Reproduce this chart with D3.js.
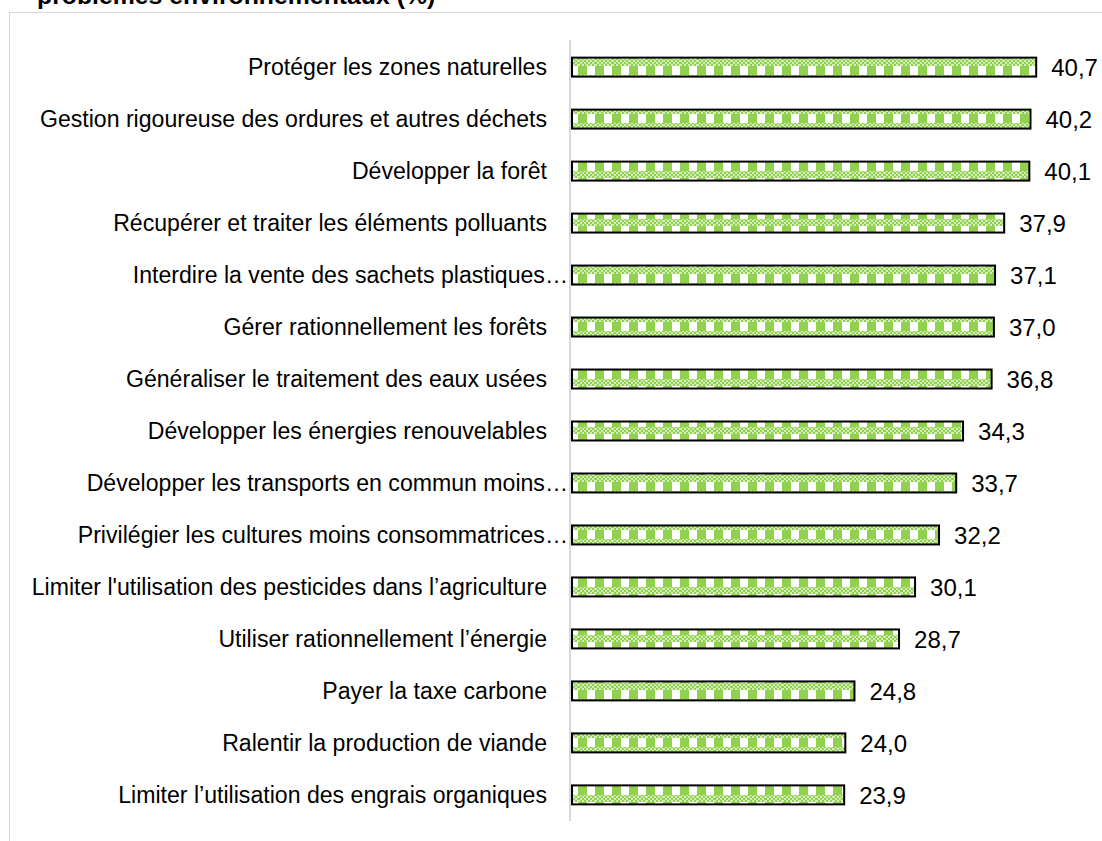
<!DOCTYPE html>
<meta charset="utf-8">
<head>
  <title>Bar chart</title>
</head>

<style>
body {
  margin: 0;
  background: #fff;
}
text {
  font-family: "Liberation Sans", Arial, sans-serif;
  fill: #000;
}
.title {
  font-weight: bold;
  font-size: 24.8px;
}
.label {
  font-size: 23.1px;
}
.value {
  font-size: 24px;
}
</style>

<body>
  <svg width="1102" height="841"></svg>

  <script src="https://cdnjs.cloudflare.com/ajax/libs/d3/7.8.5/d3.min.js"></script>
  <script>
var categories = [
  "Protéger les zones naturelles",
  "Gestion rigoureuse des ordures et autres déchets",
  "Développer la forêt",
  "Récupérer et traiter les éléments polluants",
  "Interdire la vente des sachets plastiques…",
  "Gérer rationnellement les forêts",
  "Généraliser le traitement des eaux usées",
  "Développer les énergies renouvelables",
  "Développer les transports en commun moins…",
  "Privilégier les cultures moins consommatrices…",
  "Limiter l'utilisation des pesticides dans l’agriculture",
  "Utiliser rationnellement l’énergie",
  "Payer la taxe carbone",
  "Ralentir la production de viande",
  "Limiter l’utilisation des engrais organiques"
]
var values = [40.7, 40.2, 40.1, 37.9, 37.1, 37.0, 36.8, 34.3, 33.7, 32.2, 30.1, 28.7, 24.8, 24.0, 23.9]
var title = "problèmes environnementaux (%)"

var svg = d3.select('svg')
var green = '#92d050'

// patterns: fine checker inside a coarse block pattern
var defs = svg.append('defs')
var fine = defs.append('pattern')
  .attr('id', 'fine')
  .attr('patternUnits', 'userSpaceOnUse')
  .attr('width', 4).attr('height', 4)
fine.append('rect').attr('width', 4).attr('height', 4).attr('fill', '#d3edb9')
fine.append('rect').attr('width', 2).attr('height', 2).attr('fill', green)
fine.append('rect').attr('x', 2).attr('y', 2).attr('width', 2).attr('height', 2).attr('fill', green)

var pat = defs.append('pattern')
  .attr('id', 'bars')
  .attr('patternUnits', 'userSpaceOnUse')
  .attr('width', 17).attr('height', 16)
  .attr('y', 2)
pat.append('rect').attr('width', 17).attr('height', 16).attr('fill', '#fff')
pat.append('rect').attr('width', 9).attr('height', 9).attr('fill', green)
pat.append('rect').attr('y', 9).attr('width', 17).attr('height', 7).attr('fill', 'url(#fine)')

// chart frame
svg.append('rect')
  .attr('x', 9.5).attr('y', 12.5)
  .attr('width', 1200).attr('height', 900)
  .attr('fill', 'none')
  .attr('stroke', '#d9d9d9')

svg.append('text')
  .attr('class', 'title')
  .attr('x', 37).attr('y', 4)
  .text(title)

var x = d3.scaleLinear()
  .domain([0, 45])
  .range([571, 571 + 45 * 11.43])

var y = d3.scaleBand()
  .domain(categories)
  .range([41, 821])
  .paddingInner(0.635)
  .paddingOuter(0.32)

// vertical axis line
svg.append('line')
  .attr('x1', 570).attr('x2', 570)
  .attr('y1', 40).attr('y2', 821)
  .attr('stroke', '#d9d9d9')
  .attr('stroke-width', 2)

var rows = categories.map(function(c, i) { return { name: c, value: values[i] } })

svg.append('g').selectAll('rect')
  .data(rows)
  .enter()
  .append('rect')
  .attr('x', x(0) + 1)
  .attr('y', function(d) { return y(d.name) })
  .attr('width', function(d) { return x(d.value) - x(0) - 1 })
  .attr('height', y.bandwidth())
  .attr('fill', 'url(#bars)')
  .attr('stroke', '#000')
  .attr('stroke-width', 2)

svg.append('g').selectAll('text')
  .data(rows)
  .enter()
  .append('text')
  .attr('class', 'label')
  .attr('text-anchor', 'end')
  .attr('x', function(d) { return d.name.slice(-1) === '…' ? 568 : 547 })
  .attr('y', function(d) { return y(d.name) + y.bandwidth() / 2 })
  .attr('dy', '0.36em')
  .text(function(d) { return d.name })

svg.append('g').selectAll('text')
  .data(rows)
  .enter()
  .append('text')
  .attr('class', 'value')
  .attr('x', function(d) { return x(d.value) + 15 })
  .attr('y', function(d) { return y(d.name) + y.bandwidth() / 2 })
  .attr('dy', '0.36em')
  .text(function(d) { return d3.format('.1f')(d.value).replace('.', ',') })
  </script>
</body>
</html>
